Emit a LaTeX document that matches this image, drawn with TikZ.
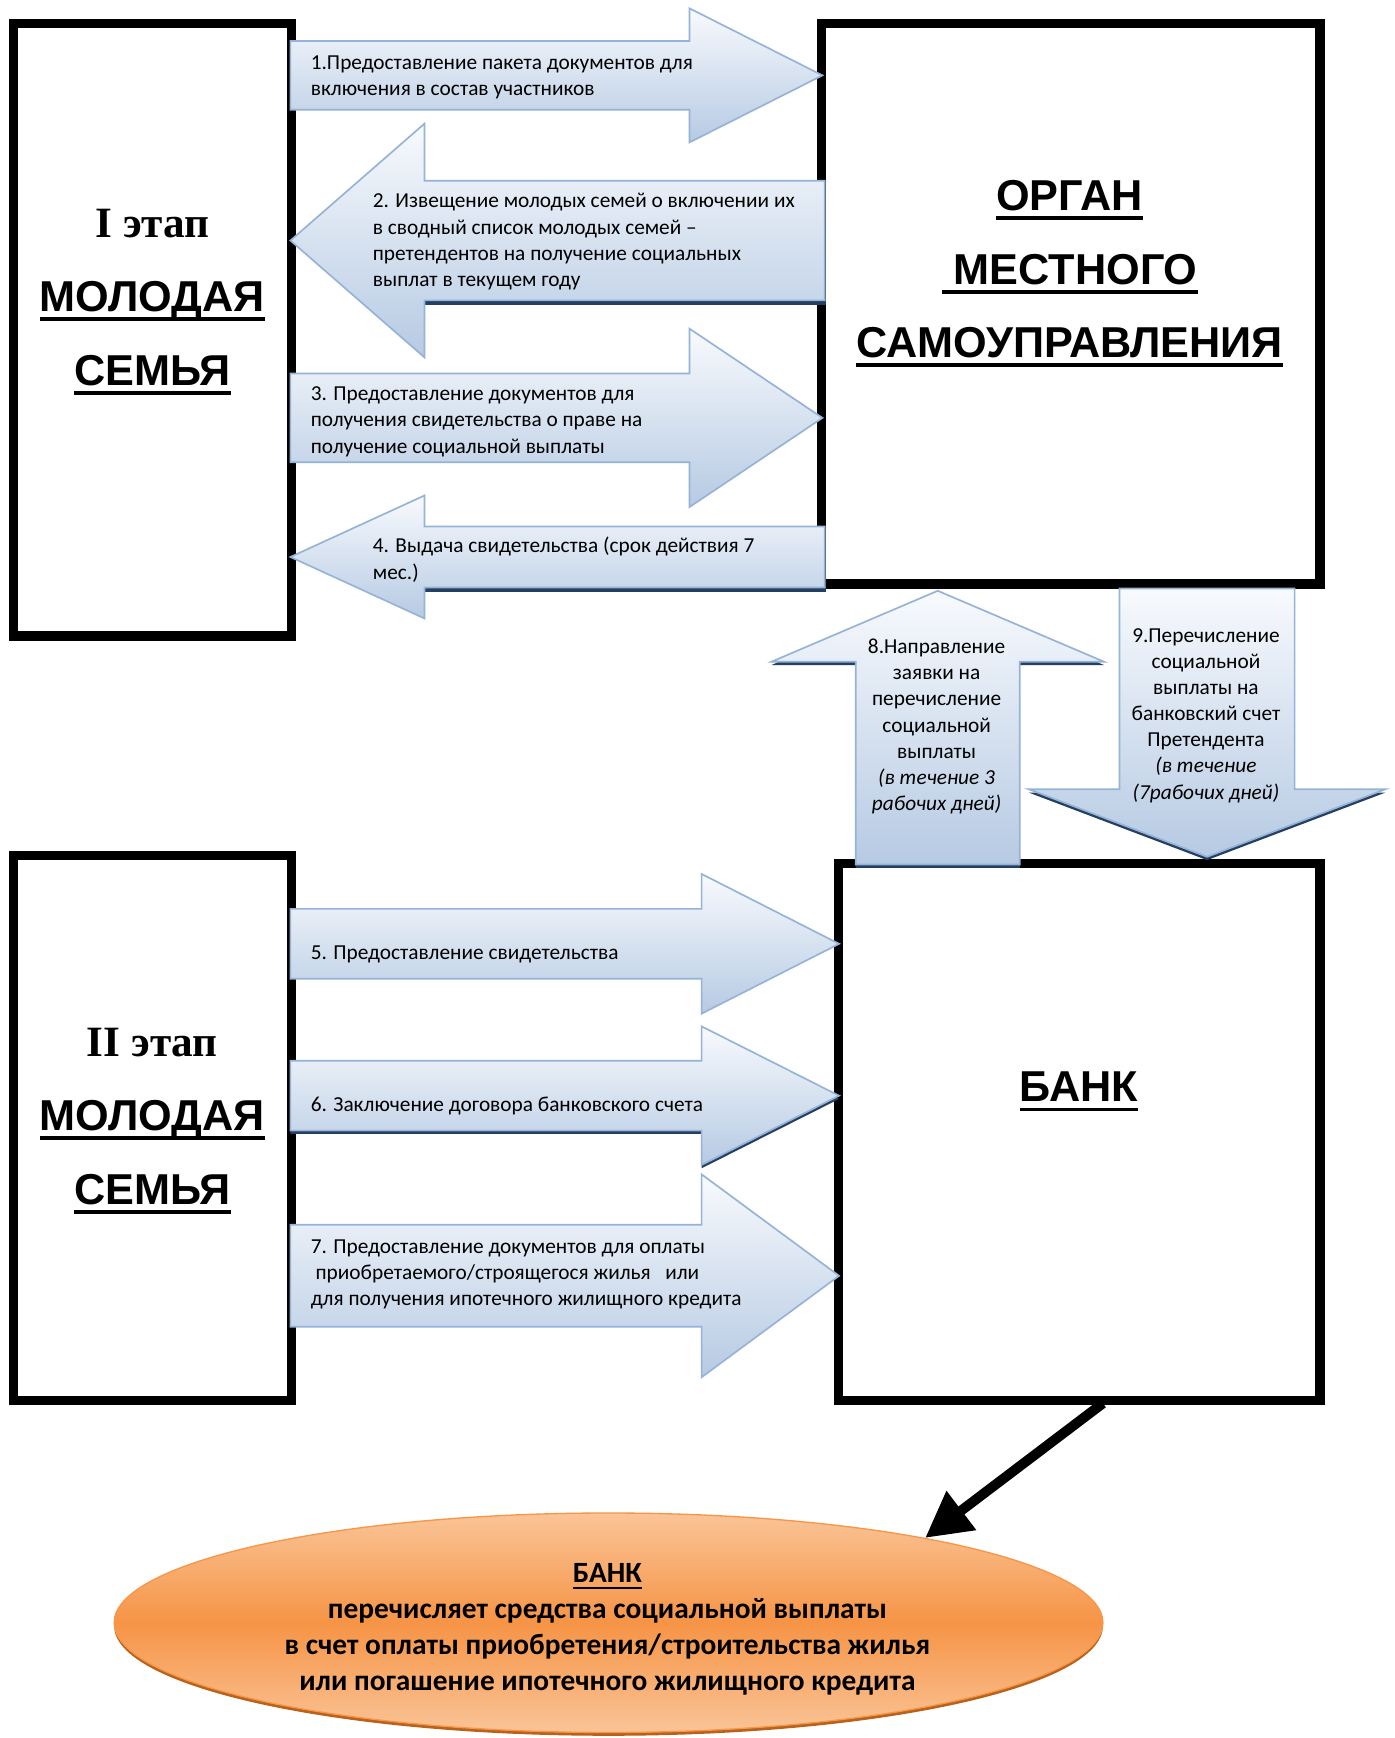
\documentclass[tikz,border=0pt]{standalone}
\usepackage{fontspec}
\setmainfont{Carlito}
\newfontfamily\arialf{Liberation Sans}
\newfontfamily\timesf{Liberation Serif}
\usetikzlibrary{arrows.meta,calc,shapes.geometric}

\definecolor{abord}{HTML}{95B3D7}
\definecolor{atop}{HTML}{F8FAFD}
\definecolor{abot}{HTML}{B6CAE3}
\definecolor{ashad}{HTML}{243F60}
\definecolor{otop}{HTML}{FAC497}
\definecolor{omid}{HTML}{F69446}
\definecolor{obord}{HTML}{F79646}
\definecolor{oshad}{HTML}{B8621B}

\newcommand\ulx[1]{\leavevmode\setbox0=\hbox{#1}\rlap{\rule[-0.22em]{\wd0}{0.09em}}\box0}

% right arrow: style, x0, xh, xt, yc, hb, hh
\newcommand\arrR[7]{\path[#1] (#2,#5-#6) -- (#3,#5-#6) -- (#3,#5-#7) -- (#4,#5) -- (#3,#5+#7) -- (#3,#5+#6) -- (#2,#5+#6) -- cycle;}
% left arrow: style, xtip, xh, xtail, yc, hb, hh
\newcommand\arrL[7]{\path[#1] (#4,#5-#6) -- (#3,#5-#6) -- (#3,#5-#7) -- (#2,#5) -- (#3,#5+#7) -- (#3,#5+#6) -- (#4,#5+#6) -- cycle;}
% vertical arrow: style, xc, ytip, yh, ytail, hb, hh
\newcommand\arrV[7]{\path[#1] (#2-#6,#5) -- (#2-#6,#4) -- (#2-#7,#4) -- (#2,#3) -- (#2+#7,#4) -- (#2+#6,#4) -- (#2+#6,#5) -- cycle;}

\tikzset{
  arrowfill/.style={draw=abord, line width=0.75pt, top color=atop, bottom color=abot},
  arrowshadow/.style={fill=ashad, yshift=-1.5pt},
  framebox/.style={draw=black, line width=3.5pt, fill=white, rectangle, inner sep=0pt},
  innerline/.style={draw=black, line width=0.9pt},
  atext/.style={inner sep=0pt, font=\fontsize{9.62}{11.8}\selectfont, align=left},
  ctext/.style={inner sep=0pt, font=\fontsize{9.62}{11.8}\selectfont, align=center},
  titletext/.style={inner sep=0pt, align=center, font=\fontsize{19.5}{33.2}\selectfont\arialf\bfseries},
  elltext/.style={inner sep=0pt, align=center, font=\fontsize{13.25}{16.15}\selectfont\bfseries},
  blackarrow/.style={draw=black, line width=4.5pt, -{Triangle[length=20.5pt,width=21pt]}},
}

\begin{document}
\begin{tikzpicture}[x=0.5pt, y=-0.5pt]
\useasboundingbox (0,0) rectangle (1258,1568);
\fill[white] (0,0) rectangle (1258,1568);

% frames
\node[framebox, minimum width=126pt, minimum height=277pt] (st1) at (137.5,297.5) {};
\draw[innerline] ([shift={(7.4,7.4)}]st1.north west) rectangle ([shift={(-7.4,-7.4)}]st1.south east);
\node[framebox, minimum width=225.5pt, minimum height=253.5pt] (org) at (966,274) {};
\draw[innerline] ([shift={(7.4,7.4)}]org.north west) rectangle ([shift={(-7.4,-7.4)}]org.south east);
\node[framebox, minimum width=126pt, minimum height=246.5pt] (st2) at (137.5,1018) {};
\draw[innerline] ([shift={(7.4,7.4)}]st2.north west) rectangle ([shift={(-7.4,-7.4)}]st2.south east);
\node[framebox, minimum width=218pt, minimum height=243pt] (bank) at (973.5,1021.5) {};
\draw[innerline] ([shift={(7.4,7.4)}]bank.north west) rectangle ([shift={(-7.4,-7.4)}]bank.south east);

% block arrows
\arrR{arrowfill}{262}{622}{742}{68}{31}{60.5}
\fill[arrowshadow] (383,217+54-4) rectangle (745,217+54+1);
\arrL{arrowfill}{262}{383}{744}{217}{54}{105.5}
\arrR{arrowfill}{262}{622}{742}{377}{40}{80.5}
\fill[arrowshadow] (383,502.5+27.5-4) rectangle (745,502.5+27.5+1);
\arrL{arrowfill}{262}{383}{744}{502.5}{27.5}{55.5}
\arrR{arrowfill}{262}{633}{757}{851.5}{31.5}{63}
\arrR{arrowshadow}{262}{633}{757}{988.5}{31.5}{62.5}
\arrR{arrowfill}{262}{633}{757}{988.5}{31.5}{62.5}
\arrR{arrowfill}{262}{633}{757}{1151}{46}{91.5}
\arrV{arrowshadow}{846}{533}{597}{780}{74}{150}
\arrV{arrowfill}{846}{533}{597}{780}{74}{150}
\arrV{arrowshadow}{1089}{773}{712}{531}{79}{161}
\arrV{arrowfill}{1089}{773}{712}{531}{79}{161}

% arrow texts
\node[atext, anchor=west] (t1) at (280,70) {1.Предоставление пакета документов для\\включения в состав участников};
\node[atext, anchor=west] (t2) at (336,218) {2. Извещение молодых семей о включении их\\в сводный список молодых семей –\\претендентов на получение социальных\\выплат в текущем году};
\node[atext, anchor=west] (t3) at (280,380.5) {3. Предоставление документов для\\получения свидетельства о праве на\\получение социальной выплаты};
\node[atext, anchor=west] (t4) at (336,505) {4. Выдача свидетельства (срок действия 7\\мес.)};
\node[atext, anchor=west] (t5) at (280,861) {5. Предоставление свидетельства};
\node[atext, anchor=west] (t6) at (280,998) {6. Заключение договора банковского счета};
\node[atext, anchor=west] (t7) at (280,1149.5) {7. Предоставление документов для оплаты\\\ приобретаемого/строящегося жилья\ \ \ или\\для получения ипотечного жилищного кредита};
\node[ctext] (t8) at (845,655.5) {8.Направление\\заявки на\\перечисление\\социальной\\выплаты\\\textit{(в течение 3}\\\textit{рабочих дней)}};
\node[ctext] (t9) at (1088,645.5) {9.Перечисление\\социальной\\выплаты на\\банковский счет\\Претендента\\\textit{(в течение}\\\textit{(7рабочих дней)}};

% titles
\node[titletext] (s1) at (137.5,272.5) {{\timesf I этап}\\\ulx{МОЛОДАЯ}\\\ulx{СЕМЬЯ}};
\node[titletext] (s2) at (137.5,1011.5) {{\timesf II этап}\\\ulx{МОЛОДАЯ}\\\ulx{СЕМЬЯ}};
\node[titletext] (orgt) at (965,247) {\ulx{ОРГАН}\\\ulx{\ МЕСТНОГО}\\\ulx{САМОУПРАВЛЕНИЯ}};
\node[titletext] (bankt) at (973.5,985) {\ulx{БАНК}};

% result ellipse
\path[fill=oshad] (549,1467) ellipse [x radius=446, y radius=99];
\node[ellipse, draw=obord, line width=0.6pt, top color=otop, bottom color=otop, middle color=omid,
      minimum width=446pt, minimum height=99pt, inner sep=0pt] (ell) at (549,1464) {};
\node[elltext] (ellt) at (548,1470) {\ulx{БАНК}\\перечисляет средства социальной выплаты\\в счет оплаты приобретения/строительства жилья\\или погашение ипотечного жилищного кредита};

\coordinate (bankout) at ($(bank.south)+(21.5,-2)$);
\draw[blackarrow] (bankout) -- (ell.15.8);
\end{tikzpicture}
\end{document}
